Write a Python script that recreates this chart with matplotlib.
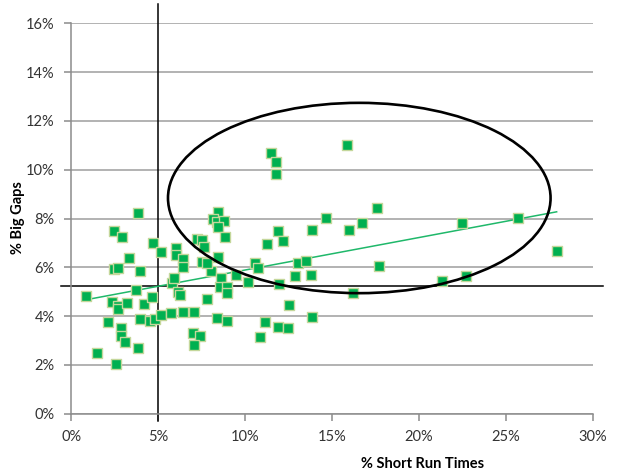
import numpy as np
import matplotlib.pyplot as plt
from matplotlib.patches import Ellipse
from matplotlib.ticker import PercentFormatter

# % Short Run Times (x) and % Big Gaps (y), in percent
short_run = [0.83, 2.32, 2.70, 2.70, 3.20, 3.70, 4.20, 4.62, 2.09, 2.84,
             2.84, 3.10, 1.49, 2.59, 3.93, 3.82, 4.51, 4.81, 5.16, 5.73,
             6.42, 7.05, 5.77, 6.11, 6.25, 7.01, 7.38, 7.05, 3.82, 2.47,
             2.93, 4.70, 5.16, 3.32, 2.45, 2.70, 3.93, 6.03, 6.03, 6.42,
             6.42, 5.92, 7.25, 7.49, 7.64, 7.78, 8.36, 8.95, 8.03, 7.49,
             7.78, 8.60, 8.53, 8.95, 8.95, 9.45, 10.17, 10.56, 10.75, 11.94,
             12.86, 13.76, 13.05, 13.49, 12.53, 11.13, 11.86, 12.44, 10.84, 13.85,
             11.48, 11.75, 11.75, 8.45, 8.16, 8.36, 8.79, 8.41, 8.83, 11.90,
             12.15, 11.25, 13.87, 14.64, 8.45, 15.86, 17.57, 16.69, 15.96, 17.68,
             16.21, 21.29, 22.49, 25.66, 27.91, 22.72]
big_gaps = [4.82, 4.58, 4.41, 4.28, 4.55, 5.07, 4.50, 4.80, 3.76, 3.51,
            3.18, 2.94, 2.48, 2.02, 3.88, 2.70, 3.79, 3.89, 4.03, 4.11,
            4.18, 4.18, 5.34, 4.99, 4.88, 3.30, 3.18, 2.82, 8.21, 7.50,
            7.23, 6.98, 6.64, 6.38, 5.94, 5.97, 5.86, 6.80, 6.50, 6.34,
            6.02, 5.55, 7.16, 7.10, 6.84, 4.70, 3.91, 3.79, 5.86, 6.23,
            6.19, 5.55, 5.20, 5.20, 4.93, 5.68, 5.40, 6.19, 5.96, 5.30,
            5.66, 5.67, 6.19, 6.27, 4.45, 3.76, 3.57, 3.50, 3.13, 3.98,
            10.67, 10.32, 9.81, 8.27, 7.97, 7.87, 7.91, 7.66, 7.25, 7.50,
            7.09, 6.97, 7.53, 8.04, 6.43, 11.00, 8.42, 7.80, 7.53, 6.05,
            4.96, 5.45, 7.80, 8.01, 6.67, 5.66]

x_cut = 5.0     # vertical reference line
y_cut = 5.25    # horizontal reference line

x = np.array(short_run)
y = np.array(big_gaps)

plt.rcParams['font.family'] = ['Lato', 'DejaVu Sans']
fig = plt.figure(figsize=(6.2, 4.72), dpi=100)
ax = fig.add_axes([71.3 / 620, 58.3 / 472, (593 - 71.3) / 620, (413.7 - 23.3) / 472])

grey = '#8c8c8c'
ax.set_xlim(0, 30)
ax.set_ylim(0, 16)
ax.set_xticks(np.arange(0, 31, 5))
ax.set_yticks(np.arange(0, 17, 2))
ax.xaxis.set_major_formatter(PercentFormatter(decimals=0))
ax.yaxis.set_major_formatter(PercentFormatter(decimals=0))
ax.grid(axis='y', color='#a6a6a6', linewidth=1.2)
ax.set_axisbelow(True)
for s in ['top', 'right']:
    ax.spines[s].set_visible(False)
for s in ['left', 'bottom']:
    ax.spines[s].set_color(grey)
    ax.spines[s].set_linewidth(1.1)
ax.tick_params(colors=grey, length=5, width=1.1, labelsize=10.5,
               labelcolor='#333333', pad=7)

# reference lines, running past the plot area
ax.plot([x_cut, x_cut], [-0.3, 16.8], color='black', lw=1.1, clip_on=False, zorder=2)
ax.plot([-0.6, 30.6], [y_cut, y_cut], color='black', lw=1.1, clip_on=False, zorder=2)

# linear trend line
m, b = np.polyfit(x, y, 1)
xt = np.array([x.min(), x.max()])
ax.plot(xt, m * xt + b, color='#1fb86a', lw=1.1, zorder=3)

ax.scatter(x, y, marker='s', s=42, color='#00b050', edgecolor='#c4d79b',
           linewidth=1.0, zorder=4)

ax.add_patch(Ellipse((16.56, 8.84), 22.0, 7.8, fill=False, edgecolor='black',
                     lw=1.9, zorder=5))

fig.text(18 / 620, (472 - 218) / 472, '% Big Gaps', fontsize=10.5,
         fontweight='bold', rotation=90, ha='center', va='center')
fig.text(423 / 620, 8 / 472, '% Short Run Times', fontsize=10.5,
         fontweight='bold', ha='center', va='center')

fig.savefig('out.png', dpi=100)
